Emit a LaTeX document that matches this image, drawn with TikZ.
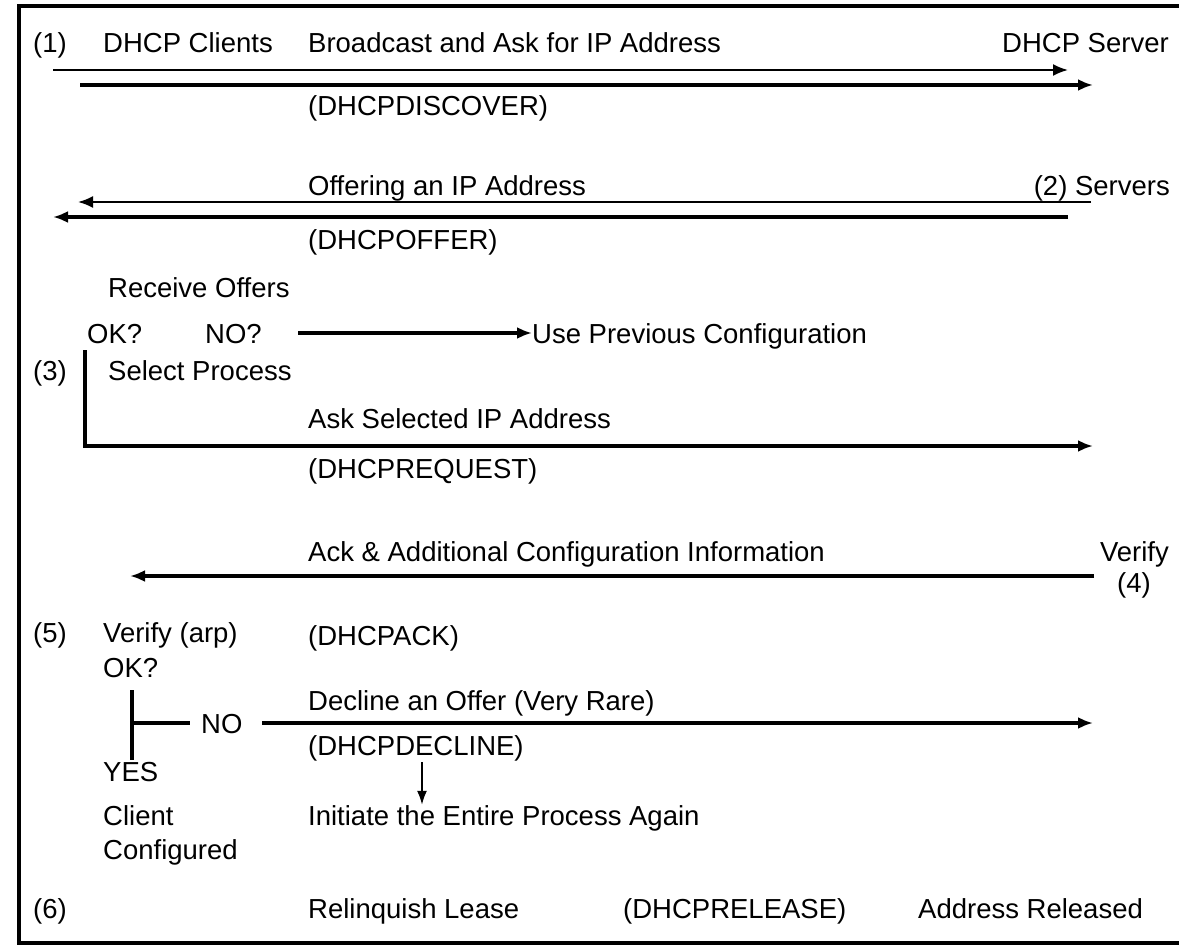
\documentclass[tikz,border=0pt]{standalone}
\usepackage{fontspec}
\setmainfont{Liberation Sans}
\usetikzlibrary{arrows.meta}
\begin{document}
\begin{tikzpicture}[x=1pt,y=-1pt,
  txt/.style={anchor=base west, inner sep=0pt, font=\fontsize{27.5}{33}\selectfont},
  txtr/.style={anchor=base east, inner sep=0pt, font=\fontsize{27.5}{33}\selectfont},
  txtc/.style={anchor=base, inner sep=0pt, font=\fontsize{27.5}{33}\selectfont},
  lnthin/.style={line width=2pt},
  lnthick/.style={line width=4pt},
  tipped/.style={-{Latex[length=15pt,width=12pt]}},
  framestyle/.style={line width=4pt}]
\useasboundingbox (0,0) rectangle (1179,947);
% frame
\draw[framestyle] (1190,6) -- (19,6) -- (19,943) -- (1190,943);
% row 1
\node[txt] (n1) at (33,53) {(1)};
\node[txt] (clients) at (103,53) {DHCP Clients};
\node[txt] (bcast) at (308,53) {Broadcast and Ask for IP Address};
\node[txt] (server) at (1002,53) {DHCP Server};
\node[txt] (discover) at (308,116) {(DHCPDISCOVER)};
\coordinate (a1s) at (53,70);  \coordinate (a1e) at (1068,70);
\coordinate (a2s) at (80,85);  \coordinate (a2e) at (1093,85);
\draw[lnthin,tipped] (a1s) -- (a1e);
\draw[lnthick,tipped] (a2s) -- (a2e);
% row 2
\node[txt] (offering) at (308,196) {Offering an IP Address};
\node[txtr] (servers) at (1170,196) {(2) Servers};
\node[txt] (offer) at (308,250) {(DHCPOFFER)};
\coordinate (b1s) at (1091,202); \coordinate (b1e) at (78,202);
\coordinate (b2s) at (1068,217); \coordinate (b2e) at (53,217);
\draw[lnthin,tipped] (b1s) -- (b1e);
\draw[lnthick,tipped] (b2s) -- (b2e);
% row 3
\node[txt] (receive) at (108,297) {Receive Offers};
\node[txt] (ok1) at (87,343) {OK?};
\node[txt] (no1) at (205,343) {NO?};
\node[txt] (useprev) at (532,343) {Use Previous Configuration};
\coordinate (c1s) at (298,333);
\draw[lnthick,tipped] (c1s) -- (c1s -| useprev.west);
\node[txt] (n3) at (33,380) {(3)};
\node[txt] (select) at (108,380) {Select Process};
\node[txt] (asksel) at (308,428) {Ask Selected IP Address};
\node[txt] (request) at (308,478) {(DHCPREQUEST)};
\coordinate (d0) at (85,350); \coordinate (d1) at (85,446); \coordinate (d2) at (1093,446);
\draw[lnthick,tipped] (d0) -- (d1) -- (d2);
% row 4
\node[txt] (ack) at (308,561) {Ack \& Additional Configuration Information};
\node[txtr] (verify) at (1169,561) {Verify};
\node[txtc] (n4) at (1134,592) {(4)};
\coordinate (e1s) at (1094,576); \coordinate (e1e) at (130,576);
\draw[lnthick,tipped] (e1s) -- (e1e);
% row 5
\node[txt] (n5) at (33,642) {(5)};
\node[txt] (verarp) at (103,642) {Verify (arp)};
\node[txt] (dhcpack) at (308,645) {(DHCPACK)};
\node[txt] (ok2) at (103,677) {OK?};
\node[txt] (decline) at (308,710) {Decline an Offer (Very Rare)};
\node[txt] (no2) at (201,733) {NO};
\node[txt] (dhcpdecline) at (308,755) {(DHCPDECLINE)};
\node[txt] (yes) at (103,781) {YES};
\node[txt] (client) at (103,825) {Client};
\node[txt] (configured) at (103,859) {Configured};
\node[txt] (initiate) at (308,825) {Initiate the Entire Process Again};
\coordinate (f0) at (132,690); \coordinate (f1) at (132,760);
\coordinate (f2) at (132,723); \coordinate (f3) at (190,723);
\draw[lnthick] (f0) -- (f1);
\draw[lnthick] (f2) -- (f3);
\coordinate (g0) at (262,723); \coordinate (g1) at (1093,723);
\draw[lnthick,tipped] (g0) -- (g1);
\coordinate (h0) at (422,762);
\draw[lnthin,-{Latex[length=14pt,width=10pt]}] (h0) -- (h0 |- initiate.north);
% row 6
\node[txt] (n6) at (33,918) {(6)};
\node[txt] (relinquish) at (308,918) {Relinquish Lease};
\node[txt] (release) at (623,918) {(DHCPRELEASE)};
\node[txt] (released) at (918,918) {Address Released};
\end{tikzpicture}
\end{document}
